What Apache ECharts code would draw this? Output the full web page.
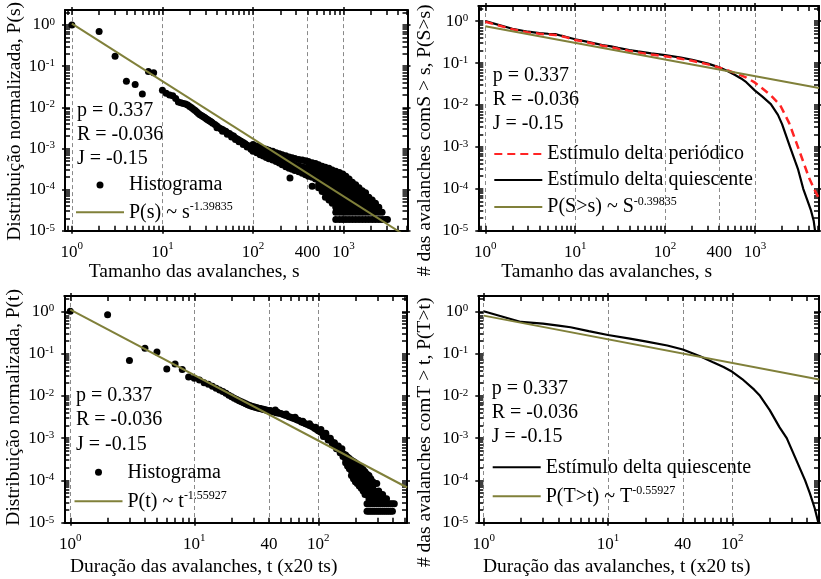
<!DOCTYPE html>
<html><head><meta charset="utf-8">
<script src="https://cdn.jsdelivr.net/npm/echarts@6/dist/echarts.min.js"></script>
<style>html,body{margin:0;padding:0;background:#fff}#c{width:821px;height:579px}</style>
</head><body><div id="c"></div><script>
// ---------------- DATA ----------------
// Panel 1: histogram of avalanche sizes (s -> list of P(s) values read at that s)
const sizeS = [1,2,3,4,5,6,7,8,10,11,12,13,14,15,16,17,18,19,20,21,22,23,24,25,26,27,28,29,30,31,32,33,34,35,36,
  38,40,42,44,46,48,50,52,55,58,61,64,67,70,74,78,82,86,90,95,
  100,110,120,130,140,150,165,180,195,210,230,250,256,270,290,320,350,380,410,450,490,530,580,630,690,750,820,900,980,
  1060,1150,1250,1360,1480,1610,1750,1900,2070,2250,2450,2660,2880,3050];
const sizeP = [[1.0],[0.69],[0.175],[0.043],[0.036],[0.021],[0.074],[0.069],
  [0.026],[0.022],[0.020],[0.019],[0.0163],[0.0135],[0.0128],[0.0124],[0.0120],[0.0114],[0.0105],[0.0097],[0.0090],[0.0084],[0.0077],[0.0071],[0.0066],[0.0063],[0.0060],[0.0057],[0.0054],[0.0051],[0.0049],[0.0047],[0.0045],[0.0043],[0.0041],
  [0.0038],[0.0035,0.0032],[0.0032],[0.0030],[0.0029,0.0026],[0.0027],[0.0026],[0.0024,0.0022],[0.0023],[0.0021,0.0019],[0.0020],[0.0018,0.00165],[0.0017],[0.0016,0.00145],[0.0015],[0.0014,0.00125],[0.0013],[0.0012,0.00108],[0.00115],[0.00105,0.00095],
  [1.25e-3,1.0e-3,8.5e-4],[1.15e-3,9.5e-4,7.8e-4],[1.05e-3,8.6e-4,7e-4],[1.0e-3,8e-4,6.5e-4],[9.5e-4,7.5e-4,6e-4],[9e-4,7e-4,5.6e-4],[8.5e-4,6.5e-4,5.2e-4],[7.8e-4,6e-4,4.8e-4],[7.4e-4,5.6e-4,4.4e-4],[7e-4,5.3e-4,4e-4],[6.6e-4,4.9e-4,3.6e-4],[6.2e-4,4.5e-4,3.3e-4],[1.9e-4],[5.9e-4,4.2e-4,3.1e-4],[5.7e-4,4e-4,2.9e-4],[5.4e-4,3.8e-4,2.7e-4],[5.2e-4,3.6e-4,2.5e-4],[5e-4,3.4e-4,2.3e-4],
  [4.8e-4,3.7e-4,2.8e-4,2.1e-4],[4.5e-4,3.5e-4,2.6e-4,2e-4,1.2e-4],[4.3e-4,3.3e-4,2.5e-4,1.8e-4],[4e-4,3.1e-4,2.3e-4,1.7e-4,1.3e-4,1.1e-4],[3.7e-4,2.9e-4,2.2e-4,1.6e-4,1.2e-4,9e-5],[3.5e-4,2.7e-4,2e-4,1.5e-4,1.1e-4,8.4e-5,6.5e-5],[3.3e-4,2.5e-4,1.9e-4,1.4e-4,1.05e-4,7.4e-5,5.6e-5],[3e-4,2.3e-4,1.7e-4,1.3e-4,9.3e-5,6.5e-5,4.65e-5],
  [2.8e-4,2.1e-4,1.5e-4,1.1e-4,8.4e-5,6.5e-5,4.65e-5,3.7e-5,2.8e-5,1.86e-5],[2.6e-4,1.9e-4,1.4e-4,1e-4,7.4e-5,5.6e-5,4.65e-5,3.7e-5,2.8e-5,1.86e-5],[2.4e-4,1.8e-4,1.3e-4,9.3e-5,7.4e-5,5.6e-5,4.65e-5,3.7e-5,2.8e-5,1.86e-5],
  [2.1e-4,1.6e-4,1.2e-4,9.3e-5,6.5e-5,4.65e-5,3.7e-5,2.8e-5,1.86e-5],[1.8e-4,1.4e-4,1.05e-4,8.4e-5,6.5e-5,4.65e-5,3.7e-5,2.8e-5,1.86e-5],[1.5e-4,1.2e-4,9.3e-5,6.5e-5,4.65e-5,3.7e-5,2.8e-5,1.86e-5],[1.3e-4,1.0e-4,7.4e-5,5.6e-5,4.65e-5,3.7e-5,2.8e-5,1.86e-5],[1.1e-4,8.4e-5,6.5e-5,4.65e-5,3.7e-5,2.8e-5,1.86e-5],[9.3e-5,7.4e-5,5.6e-5,4.65e-5,3.7e-5,2.8e-5,1.86e-5],[8.4e-5,6.5e-5,4.65e-5,3.7e-5,2.8e-5,1.86e-5],[6.5e-5,5.6e-5,4.65e-5,3.7e-5,2.8e-5,1.86e-5],[5.6e-5,4.65e-5,3.7e-5,2.8e-5,1.86e-5],[4.65e-5,3.7e-5,2.8e-5,1.86e-5],[3.7e-5,2.8e-5,1.86e-5],[2.8e-5,1.86e-5],[1.86e-5],[1.86e-5]];
const sizeFitS = [1, 5100];
const sizeFitP = [1.08, 7.0e-6];

// Panel 2: cumulative distributions of sizes
const ccdfS_quiesc = [1,2,3,4,5,6,7,8,10,13,16,20,25,30,40,50,70,100,150,200,300,400,500,600,700,800,1000,1200,1500,1800,2000,2450,2800,3000,3440,3800,4200,4500,4650];
const ccdfP_quiesc = [1.0,0.66,0.56,0.52,0.50,0.49,0.45,0.42,0.37,0.33,0.30,0.27,0.25,0.23,0.205,0.19,0.17,0.155,0.135,0.12,0.097,0.079,0.064,0.052,0.043,0.035,0.022,0.016,0.0105,0.0058,0.0035,0.001,4.5e-4,3e-4,1e-4,5.5e-5,3e-5,1.7e-5,1e-5];
const ccdfS_period = [1,2,3,4,5,6,7,8,10,13,16,20,25,30,40,50,70,100,150,200,300,400,500,600,700,800,1000,1200,1500,1900,2400,3000,3500,4000,4540,5150];
const ccdfP_period = [0.97,0.64,0.54,0.50,0.48,0.47,0.44,0.41,0.355,0.32,0.29,0.26,0.24,0.22,0.195,0.18,0.16,0.145,0.127,0.113,0.093,0.078,0.067,0.058,0.051,0.045,0.034,0.025,0.017,0.01,0.0037,0.001,4e-4,1.8e-4,1e-4,5.8e-5];
const ccdfFitS = [1, 5150];
const ccdfFitP = [0.76, 0.0253];

// Panel 3: histogram of avalanche durations
const durT = [1,2,3,4,5,6,7,8,9,10,11,12,13,14,15,16,17,18,19,20,21,22,23,24,25,26,27,28,29,30,31,32,33,34,35,36,37,38,39,40,41,42,43,44,
  45,46,47,48,50,52,54,55,56,58,60,62,64,65,66,68,70,73,75,76,79,82,85,88,91,94,95,97,100,104,105,108,110,112,115,116,120,124,125,128,130,133,135,138,140,143,145,149,150,154,155,158,160,
  166,172,178,185,192,199,206,214,222,230,238,247,256,265,275,285,296,307,318,330,342,355,368,382,396,410];
const durP = [[1.0],[0.83],[0.069],[0.133],[0.109],[0.043],[0.057],[0.042],[0.028],[0.026],[0.0237],[0.0205],[0.0188],[0.0168],[0.0152],[0.0138],[0.0126],[0.0115],[0.0104],[0.0095],[0.0088],[0.0082],[0.0077],[0.0073],[0.0069],[0.0065],[0.0062],[0.0059],[0.0057],[0.0055],[0.0054],[0.0052],[0.0051],[0.0050],[0.0049],[0.0048],[0.0047],[0.0046],[0.0045],[0.0044],[0.0045],[0.0043],[0.0042],[0.0043],
  [0.0041,0.0046],[0.0040],[0.0041],[0.0039],[0.0038],[0.0036],[0.0035],[0.0037],[0.0034],[0.0032],[0.0031],[0.0030],[0.0029],[0.0031],[0.0028],[0.0027],[0.0026],[0.0024],[0.0025],[0.0023],[0.0022],[0.0021],[0.0020,0.0022],[0.0019],[0.0018],[0.0017],[0.0018],[0.0016],[0.0015],[0.0014],[0.0016],[0.0013],[0.0011],[0.0012],[0.0013],[0.0011],[0.0010,9e-4],[9.1e-4],[1.0e-3],[8.3e-4],[7e-4],[7.4e-4],[7.8e-4],[6.5e-4],[5.6e-4],[5.9e-4],[6.5e-4],[5.2e-4],[4.5e-4],[4.7e-4],[5.6e-4],[3.7e-4],[4.2e-4],
  [4e-4,3.2e-4,2.6e-4],[3.6e-4,2.8e-4,2.2e-4],[3.3e-4,2.5e-4,1.9e-4],[3.0e-4,2.3e-4,1.7e-4,1.3e-4],[2.8e-4,2.0e-4,1.5e-4,1.1e-4],[2.6e-4,1.9e-4,1.3e-4,9.3e-5],[2.4e-4,1.7e-4,1.2e-4,8.4e-5],[2.2e-4,1.5e-4,1.0e-4,7.4e-5],[2e-4,1.4e-4,9.3e-5,6.5e-5],[1.8e-4,1.2e-4,8.4e-5,5.6e-5],[1.6e-4,1.1e-4,7.4e-5,4.65e-5],[1.4e-4,9.3e-5,6.5e-5,4.65e-5,2.8e-5,1.86e-5],[1.3e-4,8.4e-5,5.6e-5,3.7e-5,2.8e-5,1.86e-5],[1.1e-4,7.4e-5,4.65e-5,2.8e-5,1.86e-5],[9.3e-5,6.5e-5,4.65e-5,3.7e-5,2.8e-5,1.86e-5],[8.4e-5,5.6e-5,3.7e-5,2.8e-5,1.86e-5],[8.4e-5,4.65e-5,2.8e-5,1.86e-5],[5.6e-5,3.7e-5,2.8e-5,1.86e-5],[4.65e-5,2.8e-5,1.86e-5],[4.65e-5,3.7e-5,2.8e-5,1.86e-5],[3.7e-5,2.8e-5,1.86e-5],[3.7e-5,2.8e-5,1.86e-5],[2.8e-5,1.86e-5],[2.8e-5,1.86e-5],[2.8e-5,1.86e-5],[2.8e-5]];
const durFitT = [1, 520];
const durFitP = [1.1, 6.8e-5];

// Panel 4: cumulative distribution of durations
const ccdfT_quiesc = [1,2,3,4,5,7,10,15,20,30,40,55,70,85,100,120,150,167,200,240,274,320,385,420,460,492];
const ccdfTP_quiesc = [1.0,0.56,0.51,0.46,0.42,0.34,0.275,0.225,0.195,0.155,0.125,0.086,0.062,0.048,0.037,0.025,0.014,0.01,0.0046,0.0018,0.001,3.5e-4,1e-4,5e-5,2.2e-5,1e-5];
const ccdfTFitT = [1, 500];
const ccdfTFitP = [0.79, 0.0244];

// tick labels
const xLabelsSize = [1, 10, 100, 400, 1000];
const xLabelsDur = [1, 10, 40, 100];
const yLabels = [1e-5, 1e-4, 1e-3, 1e-2, 1e-1, 1];
const noteLines = ['p = 0.337', 'R = -0.036', 'J = -0.15'];

// ---------------- STYLE / BUILD ----------------
const FONT = "'Liberation Serif','Times New Roman',Times,serif";
const OLIVE = '#80803a';
const RED = '#ff2424';
const YMIN = 1e-5, YMAX = 2.3;

function pts(xs, ys) { const out = []; xs.forEach((x, i) => (ys[i] || []).forEach(y => out.push([x, y]))); return out; }
function pairs(xs, ys) { return xs.map((x, i) => [x, ys[i]]); }
function decades(lo, hi) { const o = []; for (let k = -6; k <= 5; k++) { const v = Math.pow(10, k); if (v >= lo * 0.9999 && v <= hi * 1.0001) o.push(v); } return o; }
function minors(lo, hi) { const o = []; for (let k = -6; k <= 5; k++) for (let m = 2; m <= 9; m++) { const v = m * Math.pow(10, k); if (v >= lo && v <= hi) o.push(v); } return o; }

function xFmt(v) {
  const l = Math.log10(v), e = Math.round(l);
  if (Math.abs(l - e) < 1e-6) return '{b|10}{s|' + e + '}';
  return '{p|' + Math.round(v) + '}';
}
function yFmt(v) { const e = Math.round(Math.log10(v)); return '{yb|10}{ys|' + e + '}'; }
const xRich = {
  b: { fontFamily: FONT, fontSize: 17, lineHeight: 17, color: '#000', verticalAlign: 'bottom' },
  s: { fontFamily: FONT, fontSize: 11, lineHeight: 11, padding: [0, 0, 9, 0], verticalAlign: 'bottom', color: '#000' },
  p: { fontFamily: FONT, fontSize: 17, lineHeight: 17, padding: [3, 0, 0, 0], verticalAlign: 'bottom', color: '#000' }
};
const yRich = {
  yb: { fontFamily: FONT, fontSize: 17, lineHeight: 17, padding: [3, 0, 3, 0], color: '#000', verticalAlign: 'middle' },
  ys: { fontFamily: FONT, fontSize: 11, lineHeight: 11, padding: [0, 0, 12, 0], verticalAlign: 'top', color: '#000' }
};

const panels = [
  { left: 65, top: 6, width: 342.5, height: 224.7, xmin: 0.84, xmax: 5080, xLabels: xLabelsSize,
    xName: 'Tamanho das avalanches, s', xGap: 31, xPad: [0, 84, 0, 0], yName: 'Distribuição normalizada, P(s)', yGap: 38, yPad: [0, 2, 0, 0],
    notesX: 77, notesY: [111, 135, 159] },
  { left: 478.3, top: 6, width: 340.7, height: 224.7, xmin: 0.836, xmax: 5150, xLabels: xLabelsSize,
    xName: 'Tamanho das avalanches, s', xGap: 31, xPad: [0, 84, 0, 0], yName: '# das avalanches comS > s, P(S>s)', yGap: 43, yPad: [0, 44, 0, 0],
    notesX: 492.7, notesY: [76, 100, 124] },
  { left: 64.3, top: 296, width: 342.7, height: 226.7, xmin: 0.895, xmax: 519, xLabels: xLabelsDur,
    xName: 'Duração das avalanches, t (x20 ts)', xGap: 34, xPad: [0, 64, 0, 0], yName: 'Distribuição normalizada, P(t)', yGap: 39, yPad: [0, 0, 0, 4],
    notesX: 76, notesY: [396, 420, 444.5] },
  { left: 478.3, top: 296, width: 340.7, height: 226.7, xmin: 0.906, xmax: 498, xLabels: xLabelsDur,
    xName: 'Duração das avalanches, t (x20 ts)', xGap: 34, xPad: [0, 64, 0, 0], yName: '# das avalanches comT > t, P(T>t)', yGap: 43, yPad: [0, 46, 0, 0],
    notesX: 491.7, notesY: [389, 413, 437] }
];

const NAME_SIZE = 19.5;
const grid = [], xAxis = [], yAxis = [], graphic = [];
function tickLine() { return { color: '#000', width: 1.5 }; }
function frameLine() { return { show: true, onZero: false, lineStyle: { color: '#000', width: 2 } }; }
function logAxis(i, min, max, position, extra) {
  return Object.assign({ type: 'log', gridIndex: i, min, max, position,
    splitLine: { show: false }, axisLabel: { show: false }, axisLine: { show: false, onZero: false }, axisTick: { show: false } }, extra);
}
panels.forEach((p, i) => {
  grid.push({ left: p.left, top: p.top, width: p.width, height: p.height, containLabel: false });
  const xMaj = decades(p.xmin, p.xmax), xAll = xMaj.concat(minors(p.xmin, p.xmax)).sort((a, b) => a - b);
  const yMaj = decades(YMIN, YMAX), yAll = yMaj.concat(minors(YMIN, YMAX)).sort((a, b) => a - b);
  xAxis.push(
    // 0: frame + labels + all inside ticks
    logAxis(i, p.xmin, p.xmax, 'bottom', { axisLine: frameLine(),
      axisTick: { show: true, inside: true, length: 5, customValues: xAll, lineStyle: tickLine() },
      axisLabel: { show: true, customValues: p.xLabels, formatter: xFmt, rich: xRich, margin: 13, color: '#000' },
      name: p.xName, nameLocation: 'middle', nameGap: p.xGap,
      nameTextStyle: { fontFamily: FONT, fontSize: NAME_SIZE, color: '#000', padding: p.xPad } }),
    // 1: outside stubs of major ticks
    logAxis(i, p.xmin, p.xmax, 'bottom', { axisTick: { show: true, inside: false, length: 3, customValues: xMaj, lineStyle: tickLine() } }),
    // 2: dashed vertical guide lines
    logAxis(i, p.xmin, p.xmax, 'bottom', { axisTick: { show: false, customValues: p.xLabels },
      splitLine: { show: true, lineStyle: { color: '#8a8a8a', width: 1, type: [4, 3] } } }),
    // 3/4: top frame
    logAxis(i, p.xmin, p.xmax, 'top', { axisLine: frameLine(),
      axisTick: { show: true, inside: true, length: 5, customValues: xAll, lineStyle: tickLine() } }),
    logAxis(i, p.xmin, p.xmax, 'top', { axisTick: { show: true, inside: false, length: 3, customValues: xMaj, lineStyle: tickLine() } })
  );
  yAxis.push(
    logAxis(i, YMIN, YMAX, 'left', { axisLine: frameLine(),
      axisTick: { show: true, inside: true, length: 5, customValues: yAll, lineStyle: tickLine() },
      axisLabel: { show: true, customValues: yLabels, formatter: yFmt, rich: yRich, margin: 10, color: '#000' },
      name: p.yName, nameLocation: 'middle', nameGap: p.yGap,
      nameTextStyle: { fontFamily: FONT, fontSize: NAME_SIZE, color: '#000', padding: p.yPad } }),
    logAxis(i, YMIN, YMAX, 'left', { axisTick: { show: true, inside: false, length: 3, customValues: yMaj, lineStyle: tickLine() } }),
    logAxis(i, YMIN, YMAX, 'right', { axisLine: frameLine(),
      axisTick: { show: true, inside: true, length: 5, customValues: yAll, lineStyle: tickLine() } }),
    logAxis(i, YMIN, YMAX, 'right', { axisTick: { show: true, inside: false, length: 3, customValues: yMaj, lineStyle: tickLine() } })
  );
  noteLines.forEach((t, k) => graphic.push({ type: 'text', x: p.notesX, y: p.notesY[k], z: 20,
    style: { text: t, fontFamily: FONT, fontSize: 20, fill: '#000', verticalAlign: 'middle' } }));
});

const N_HIST = 'Histograma';
const N_FIT1 = 'P(s) ~ s^-1.39835';
const N_PER = 'Estímulo delta periódico';
const N_QUI = 'Estímulo delta quiescente';
const N_FIT2 = 'P(S>s) ~ S^-0.39835';
const N_FIT3 = 'P(t) ~ t^-1.55927';
const N_FIT4 = 'P(T>t) ~ T^-0.55927';

function lineSeries(name, gi, data, color, width, type, z) {
  return { type: 'line', name, xAxisIndex: gi * 5, yAxisIndex: gi * 4, data, symbol: 'none', showSymbol: false,
    lineStyle: { color, width, type: type || 'solid', opacity: 1 }, itemStyle: { color }, z: z || 3, clip: true, animation: false };
}
function scatterSeries(name, gi, data) {
  return { type: 'scatter', name, xAxisIndex: gi * 5, yAxisIndex: gi * 4, data, symbol: 'circle', symbolSize: 7,
    itemStyle: { color: '#000', opacity: 1 }, z: 2, animation: false, large: false };
}
const series = [
  scatterSeries(N_HIST, 0, pts(sizeS, sizeP)),
  lineSeries(N_FIT1, 0, pairs(sizeFitS, sizeFitP), OLIVE, 2, 'solid', 4),
  lineSeries(N_QUI, 1, pairs(ccdfS_quiesc, ccdfP_quiesc), '#000', 2.2, 'solid', 3),
  lineSeries(N_PER, 1, pairs(ccdfS_period, ccdfP_period), RED, 2.5, [8, 5], 4),
  lineSeries(N_FIT2, 1, pairs(ccdfFitS, ccdfFitP), OLIVE, 2, 'solid', 5),
  scatterSeries(N_HIST, 2, pts(durT, durP)),
  lineSeries(N_FIT3, 2, pairs(durFitT, durFitP), OLIVE, 2, 'solid', 4),
  lineSeries(N_QUI, 3, pairs(ccdfT_quiesc, ccdfTP_quiesc), '#000', 2.2, 'solid', 3),
  lineSeries(N_FIT4, 3, pairs(ccdfTFitT, ccdfTFitP), OLIVE, 2, 'solid', 4)
];

function legFmt(name) {
  const k = name.indexOf('^');
  if (k < 0) return '{n|' + name + '}';
  return '{n|' + name.slice(0, k) + '}{s|' + name.slice(k + 1) + '}';
}
const legText = { fontFamily: FONT, fontSize: 20, color: '#000',
  rich: { n: { fontFamily: FONT, fontSize: 20, lineHeight: 22, color: '#000' },
          s: { fontFamily: FONT, fontSize: 12, lineHeight: 12, verticalAlign: 'top', color: '#000' } } };
function leg(left, top, gap, items) {
  return { left, top, orient: 'vertical', itemWidth: 48, itemHeight: 7, itemGap: gap, padding: 0, selectedMode: false,
    formatter: legFmt, textStyle: legText,
    data: items.map(n => n === N_HIST ? { name: n, itemStyle: { opacity: 1 } } : { name: n, itemStyle: { opacity: 0 } }) };
}
const legend = [
  leg(75, 175, 6.3, [N_HIST, N_FIT1]),
  leg(493.3, 144, 6, [N_PER, N_QUI, N_FIT2]),
  leg(73.5, 462.3, 8, [N_HIST, N_FIT3]),
  leg(491.7, 457.3, 8, [N_QUI, N_FIT4])
];

const chart = echarts.init(document.getElementById('c'), null, { renderer: 'canvas' });
chart.setOption({ animation: false, backgroundColor: '#fff', textStyle: { fontFamily: FONT },
  grid, xAxis, yAxis, series, legend, graphic });
</script></body></html>
